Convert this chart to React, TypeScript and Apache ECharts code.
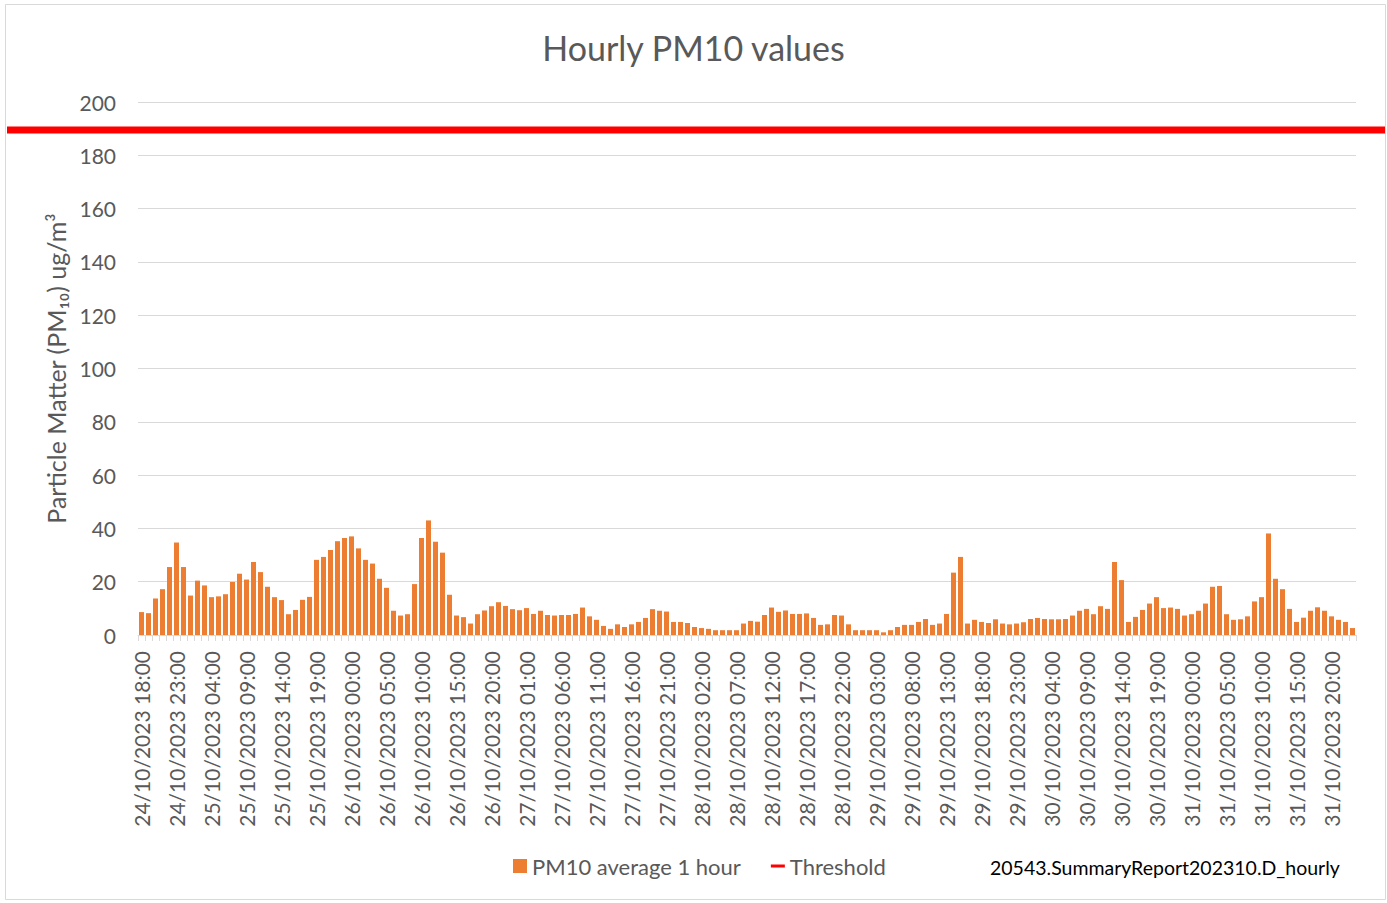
import React, { useEffect, useRef } from "react";
import * as echarts from "echarts";

// Hourly PM10 values (ug/m3), one array per day
const DAY_24 = [8.6, 8.2, 13.7, 17.2, 25.5, 34.7]; // 18:00 - 23:00
const DAY_25 = [25.5, 14.8, 20.4, 18.6, 14.2, 14.5, 15.3, 19.9, 23.0, 20.8, 27.4, 23.6, 18.1, 14.2, 13.1, 7.8, 9.4, 13.2, 14.3, 28.2, 29.3, 31.9, 35.2, 36.4];
const DAY_26 = [37.0, 32.5, 28.2, 26.8, 21.1, 17.7, 9.1, 7.3, 7.8, 19.1, 36.4, 43.0, 35.0, 30.9, 15.1, 7.3, 6.7, 4.3, 7.8, 9.2, 10.8, 12.3, 10.9, 9.7];
const DAY_27 = [9.3, 10.1, 7.9, 9.1, 7.5, 7.3, 7.5, 7.5, 7.9, 10.3, 7.0, 5.7, 3.4, 2.3, 4.0, 3.0, 4.0, 4.9, 6.4, 9.7, 9.1, 8.8, 4.9, 4.9];
const DAY_28 = [4.5, 3.0, 2.6, 2.3, 1.8, 1.8, 1.8, 1.8, 4.3, 5.3, 5.0, 7.5, 10.3, 8.7, 9.2, 7.9, 7.9, 8.1, 6.4, 3.8, 4.0, 7.5, 7.3, 4.0];
const DAY_29 = [1.8, 1.8, 1.8, 1.8, 1.0, 1.8, 3.0, 3.8, 3.8, 4.9, 6.0, 3.8, 4.3, 7.9, 23.4, 29.3, 4.3, 5.7, 4.9, 4.5, 5.9, 4.3, 4.0, 4.3];
const DAY_30 = [4.8, 6.0, 6.4, 6.0, 5.9, 5.9, 6.0, 7.3, 9.1, 9.8, 7.8, 10.8, 9.8, 27.4, 20.6, 4.9, 6.8, 9.4, 11.8, 14.2, 10.1, 10.3, 9.8, 7.3];
const DAY_31 = [7.8, 9.1, 11.8, 18.1, 18.4, 7.8, 5.7, 5.9, 7.0, 12.6, 14.2, 38.1, 21.1, 17.2, 9.8, 4.9, 6.5, 9.1, 10.4, 9.1, 7.0, 5.7, 4.9, 2.6];

const DAYS = ["24", "25", "26", "27", "28", "29", "30", "31"];
const FIRST_HOUR = 18;
const THRESHOLD = 189.5;
const Y_TICKS = { min: 0, max: 200, interval: 20 };
const TITLE = "Hourly PM10 values";
const SERIES_NAME = "PM10 average 1 hour";
const THRESHOLD_NAME = "Threshold";
const FOOTNOTE = "20543.SummaryReport202310.D_hourly";
const Y_NAME = "Particle Matter (PM\u2081\u2080) ug/m\u00b3";

const DAY_VALUES = [DAY_24, DAY_25, DAY_26, DAY_27, DAY_28, DAY_29, DAY_30, DAY_31];

const pad = (n: number) => (n < 10 ? "0" + n : "" + n);
const CATEGORIES: string[] = [];
const VALUES: number[] = [];
DAY_VALUES.forEach((arr, d) => {
  const startHour = d === 0 ? FIRST_HOUR : 0;
  arr.forEach((v, i) => {
    CATEGORIES.push(`${DAYS[d]}/10/2023 ${pad(startHour + i)}:00`);
    VALUES.push(v);
  });
});

const FONT = "Lato";
const GREY = "#595959";

export default function App() {
  const ref = useRef<HTMLDivElement>(null);
  useEffect(() => {
    if (!ref.current) return;
    const chart = echarts.init(ref.current, undefined, { renderer: "svg" });
    chart.setOption({
      animation: false,
      backgroundColor: "#ffffff",
      textStyle: { fontFamily: FONT },
      title: {
        text: TITLE,
        left: "center",
        top: 25,
        textStyle: { fontFamily: FONT, fontSize: 34, fontWeight: "normal", color: GREY },
      },
      grid: { left: 138, right: 31, top: 102, bottom: 268, containLabel: false },
      legend: {
        left: 508,
        top: 850,
        itemWidth: 14,
        itemHeight: 14,
        itemGap: 30,
        textStyle: { fontFamily: FONT, fontSize: 22, color: GREY },
        data: [
          { name: SERIES_NAME, icon: "rect" },
          { name: THRESHOLD_NAME, icon: "path://M0,0 H14 V3 H0 Z" },
        ],
      },
      xAxis: {
        type: "category",
        data: CATEGORIES,
        boundaryGap: true,
        axisLine: { show: true, lineStyle: { color: "#d9d9d9", width: 1 } },
        axisTick: { show: true, interval: 0, length: 6, lineStyle: { color: "#d9d9d9" } },
        axisLabel: {
          interval: 4,
          rotate: 90,
          margin: 16,
          fontSize: 21,
          color: GREY,
          fontFamily: FONT,
        },
      },
      yAxis: {
        type: "value",
        min: Y_TICKS.min,
        max: Y_TICKS.max,
        interval: Y_TICKS.interval,
        name: Y_NAME,
        nameLocation: "middle",
        nameRotate: 90,
        nameGap: 70,
        nameTextStyle: { fontFamily: FONT, fontSize: 25, color: GREY },
        axisLine: { show: false },
        axisTick: { show: false },
        axisLabel: { margin: 22, fontSize: 21, color: GREY, fontFamily: FONT },
        splitLine: { lineStyle: { color: "#d9d9d9", width: 1 } },
      },
      series: [
        {
          name: SERIES_NAME,
          type: "bar",
          data: VALUES,
          barWidth: "72%",
          itemStyle: { color: "#ED7D31" },
        },
        {
          name: THRESHOLD_NAME,
          type: "line",
          data: [],
          itemStyle: { color: "#FF0000" },
          lineStyle: { color: "#FF0000", width: 7 },
        },
      ],
    });
    const yPix = chart.convertToPixel({ yAxisIndex: 0 }, THRESHOLD) as number;
    chart.setOption({
      graphic: [
        {
          type: "rect",
          shape: { x: 5.5, y: 4.5, width: 1380, height: 895 },
          style: { fill: "none", stroke: "#d9d9d9", lineWidth: 1 },
          silent: true,
          z: 0,
        },
        {
          type: "line",
          shape: { x1: 7, y1: yPix, x2: 1385, y2: yPix },
          style: { stroke: "#FF0000", lineWidth: 7 },
          silent: true,
          z: 10,
        },
        {
          type: "text",
          left: 990,
          top: 857,
          style: { text: FOOTNOTE, fontFamily: FONT, fontSize: 19.5, fill: "#000000" },
          z: 10,
        },
      ],
    });
    return () => chart.dispose();
  }, []);
  return (
    <div
      ref={ref}
      style={{ position: "fixed", left: 0, top: 0, width: 1387, height: 903, background: "#fff" }}
    />
  );
}
